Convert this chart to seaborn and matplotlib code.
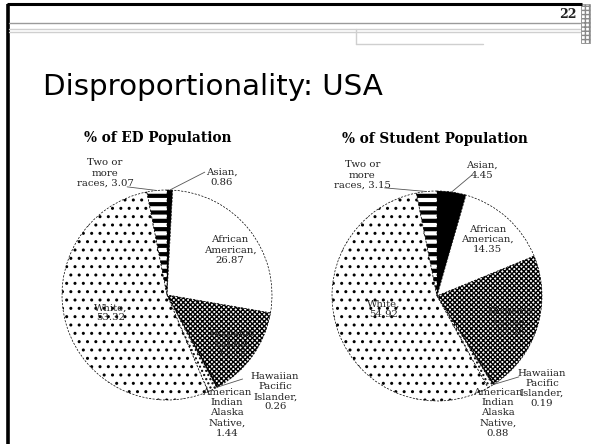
import matplotlib.pyplot as plt
import numpy as np
import seaborn as sns
from matplotlib.patches import Rectangle

sns.set_theme(style="white")

# data
groups = ["Asian,", "African\nAmerican,", "Hispanic\nLatino,", "Hawaiian\nPacific\nIslander,",
          "American\nIndian\nAlaska\nNative,", "White,", "Two or\nmore\nraces,"]
ed_pct = [0.86, 26.87, 14.18, 0.26, 1.44, 53.32, 3.07]
student_pct = [4.45, 14.35, 22.06, 0.19, 0.88, 54.92, 3.15]
titles = ["% of ED Population", "% of Student Population"]

# styles
faces = ["black", "white", "white", "black", "white", "white", "white"]
hatches = [None, None, "xxxxxxx", None, "....", "..", "--"]
seps = ["\n", "\n", "\n", "\n", "\n", "\n", " "]
label_pos = [
    [(0.52, 1.12), (0.60, 0.43), (0.62, -0.46), (1.03, -0.92), (0.57, -1.12), (-0.54, -0.17), (-0.59, 1.16)],
    [(0.43, 1.20), (0.48, 0.54), (0.70, -0.25), (1.0, -0.88), (0.58, -1.11), (-0.51, -0.13), (-0.71, 1.15)],
]
leaders = [
    {0: (0.36, 1.17), 3: (0.72, -0.80), 6: (-0.38, 1.03)},
    {0: (0.33, 1.15), 3: (0.78, -0.77), 6: (-0.50, 1.03)},
]
title_xy = [(-0.09, 1.50), (-0.02, 1.50)]
W, H = 592, 444
pie_boxes = [(62, 190, 210), (332, 191, 210)]  # left, top, size in px

fig = plt.figure(figsize=(W / 100, H / 100), dpi=100)
fig.patch.set_facecolor("white")

# slide decoration layer
bg = fig.add_axes([0, 0, 1, 1], zorder=-1)
bg.set_xlim(0, W)
bg.set_ylim(H, 0)
bg.axis("off")
bg.plot([7, 582], [4.5, 4.5], color="black", lw=2.2, solid_capstyle="butt")
bg.plot([8, 8], [4, H], color="black", lw=2.6, solid_capstyle="butt")
bg.plot([9, 580], [23, 23], color="#9a9a9a", lw=1)
bg.plot([9, 580], [29, 29], color="#cfcfcf", lw=1)
bg.plot([9, 580], [32, 32], color="#cfcfcf", lw=1)
bg.plot([356, 356], [29, 44], color="#cfcfcf", lw=1)
bg.plot([356, 483], [44, 44], color="#cfcfcf", lw=1)
bg.add_patch(Rectangle((581, 4), 9, 39, facecolor="white", edgecolor="#888888",
                       hatch="++++", lw=0.5))
bg.text(577, 15, "22", ha="right", va="center", fontsize=9, fontweight="bold",
        family="DejaVu Serif", color="#222222")
bg.text(43, 95, "Disproportionality: USA", ha="left", va="baseline", fontsize=21.2,
        family="DejaVu Sans", color="black")

for k, vals in enumerate([ed_pct, student_pct]):
    lx, ty, sz = pie_boxes[k]
    ax = fig.add_axes([lx / W, (H - ty - sz) / H, sz / W, sz / H])
    wedges, _ = ax.pie(vals, startangle=90, counterclock=False, radius=1,
                       wedgeprops=dict(edgecolor="black", linewidth=0.5, linestyle=(0, (3, 2))))
    for w, fc, ht in zip(wedges, faces, hatches):
        w.set_facecolor(fc)
        if ht:
            w.set_hatch(ht)
            if ht == "--" and hasattr(w, "set_hatch_linewidth"):
                w.set_hatch_linewidth(3.0)
    ax.set_xlim(-1, 1)
    ax.set_ylim(-1, 1)
    ax.axis("off")
    for i, (name, v) in enumerate(zip(groups, vals)):
        x, y = label_pos[k][i]
        ax.text(x, y, f"{name}{seps[i]}{v:.2f}", ha="center", va="center", fontsize=7.3,
                family="DejaVu Serif", color="#222222", linespacing=1.18, clip_on=False)
    for i, (tx, ty2) in leaders[k].items():
        w = wedges[i]
        mid = np.deg2rad((w.theta1 + w.theta2) / 2)
        ax.plot([tx, np.cos(mid)], [ty2, np.sin(mid)], color="#555555", lw=0.6, clip_on=False)
    ax.text(*title_xy[k], titles[k], ha="center", va="center", fontsize=9.8,
            fontweight="bold", family="DejaVu Serif", color="black", clip_on=False)

fig.savefig("out.png", dpi=100)
